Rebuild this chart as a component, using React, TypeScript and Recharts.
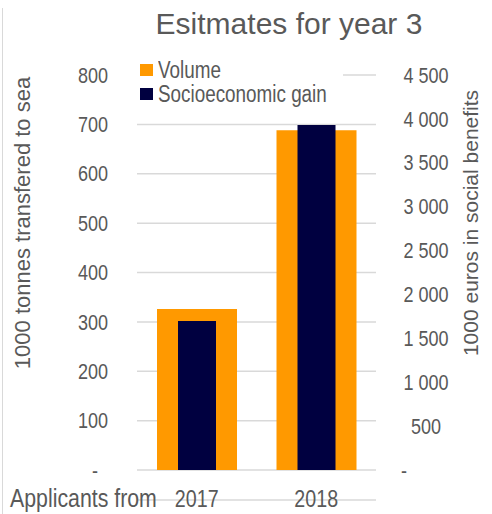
import { BarChart, Bar, XAxis, YAxis, CartesianGrid } from 'recharts';

const categories = ['2017', '2018'];
const volume = [326, 688];
const socioeconomicGain = [1697, 3930];
const leftTicks = [0, 100, 200, 300, 400, 500, 600, 700, 800];
const rightTicks = [0, 500, 1000, 1500, 2000, 2500, 3000, 3500, 4000, 4500];
const seriesNames = ['Volume', 'Socioeconomic gain'];

const data = categories.map((year, i) => ({
  year,
  volume: volume[i],
  gain: socioeconomicGain[i],
}));

const ORANGE = '#FF9900';
const NAVY = '#000040';
const TEXT = '#595959';
const SANS = '"Liberation Sans", Arial, sans-serif';
const SQUEEZE = 0.82; // the original uses a narrow Arial, no narrow font here

const fmtSpace = (v: number) => String(v).replace(/\B(?=(\d{3})+(?!\d))/g, ' ');

// text drawn narrow, like Arial Narrow
const Narrow = ({ x, y, anchor = 'middle', size = 22, dy = '0', children }: any) => (
  <text
    transform={`translate(${x} ${y}) scale(${SQUEEZE} 1)`}
    dy={dy}
    textAnchor={anchor}
    fill={TEXT}
    fontSize={size}
    fontFamily={SANS}
  >
    {children}
  </text>
);

const LeftTick = ({ y, payload }: any) =>
  payload.value === 0 ? (
    <Narrow x={95} y={y} dy='0.35em'>-</Narrow>
  ) : (
    <Narrow x={108} y={y} dy='0.35em' anchor='end'>{payload.value}</Narrow>
  );

const RightTick = ({ y, payload }: any) =>
  payload.value === 0 ? (
    <Narrow x={404} y={y} dy='0.35em'>-</Narrow>
  ) : (
    <Narrow x={426} y={y} dy='0.35em'>{fmtSpace(payload.value)}</Narrow>
  );

const BottomTick = ({ x, payload }: any) => (
  <Narrow x={x} y={507} size={24}>{payload.value}</Narrow>
);

const LegendBox = () => (
  <div style={{ position: 'absolute', left: 137, top: 58, width: 206, height: 50, background: '#fff', fontFamily: SANS, fontSize: 23, color: TEXT }}>
    {seriesNames.map((name, i) => (
      <div key={name} style={{ display: 'flex', alignItems: 'center', height: 24, lineHeight: '24px', whiteSpace: 'nowrap' }}>
        <span style={{ flex: '0 0 13px', width: 13, height: 12, background: i === 0 ? ORANGE : NAVY, marginLeft: 3, marginRight: 5 }} />
        <span style={{ display: 'inline-block', transform: `scaleX(${SQUEEZE})`, transformOrigin: 'left center' }}>{name}</span>
      </div>
    ))}
  </div>
);

export default function App() {
  return (
    <div style={{ position: 'absolute', left: 0, top: 0, width: 492, height: 514, background: '#fff' }}>
      <div style={{ position: 'absolute', left: 2, top: 8, width: 1, height: 506, background: '#d9d9d9' }} />
      <div
        style={{
          position: 'absolute',
          left: 0,
          width: 578,
          top: 6,
          textAlign: 'center',
          fontFamily: SANS,
          fontSize: 30,
          color: TEXT,
          lineHeight: '36px',
        }}
      >
        Esitmates for year 3
      </div>
      <BarChart width={492} height={514} data={data} margin={{ top: 75, right: 0, bottom: 0, left: 0 }}>
        <CartesianGrid yAxisId='left' xAxisId='vol' vertical={false} stroke='#d9d9d9' strokeWidth={1.5} />
        <XAxis
          xAxisId='vol'
          dataKey='year'
          height={44}
          axisLine={{ stroke: '#d9d9d9', strokeWidth: 1.5 }}
          tickLine={false}
          tick={<BottomTick />}
          label={{
            content: () => <Narrow x={10} y={507} size={26} anchor='start'>Applicants from</Narrow>,
          }}
        />
        <XAxis xAxisId='soc' dataKey='year' hide />
        <YAxis
          yAxisId='left'
          width={137}
          domain={[0, 800]}
          ticks={leftTicks}
          axisLine={false}
          tickLine={false}
          tick={<LeftTick />}
          label={{
            content: () => (
              <text x={22} y={223} transform='rotate(-90 22 223)' textAnchor='middle' dominantBaseline='central' fill={TEXT} fontSize={22} fontFamily={SANS}>
                1000 tonnes transfered to sea
              </text>
            ),
          }}
        />
        <YAxis
          yAxisId='right'
          orientation='right'
          width={116}
          domain={[0, 4500]}
          ticks={rightTicks}
          axisLine={false}
          tickLine={false}
          tick={<RightTick />}
          label={{
            content: () => (
              <text x={470} y={223} transform='rotate(-90 470 223)' textAnchor='middle' dominantBaseline='central' fill={TEXT} fontSize={21} fontFamily={SANS}>
                1000 euros in social benefits
              </text>
            ),
          }}
        />
        <Bar dataKey='volume' name={seriesNames[0]} xAxisId='vol' yAxisId='left' fill={ORANGE} barSize={80} isAnimationActive={false} />
        <Bar dataKey='gain' name={seriesNames[1]} xAxisId='soc' yAxisId='right' fill={NAVY} barSize={38} isAnimationActive={false} />
      </BarChart>
      <LegendBox />
    </div>
  );
}
